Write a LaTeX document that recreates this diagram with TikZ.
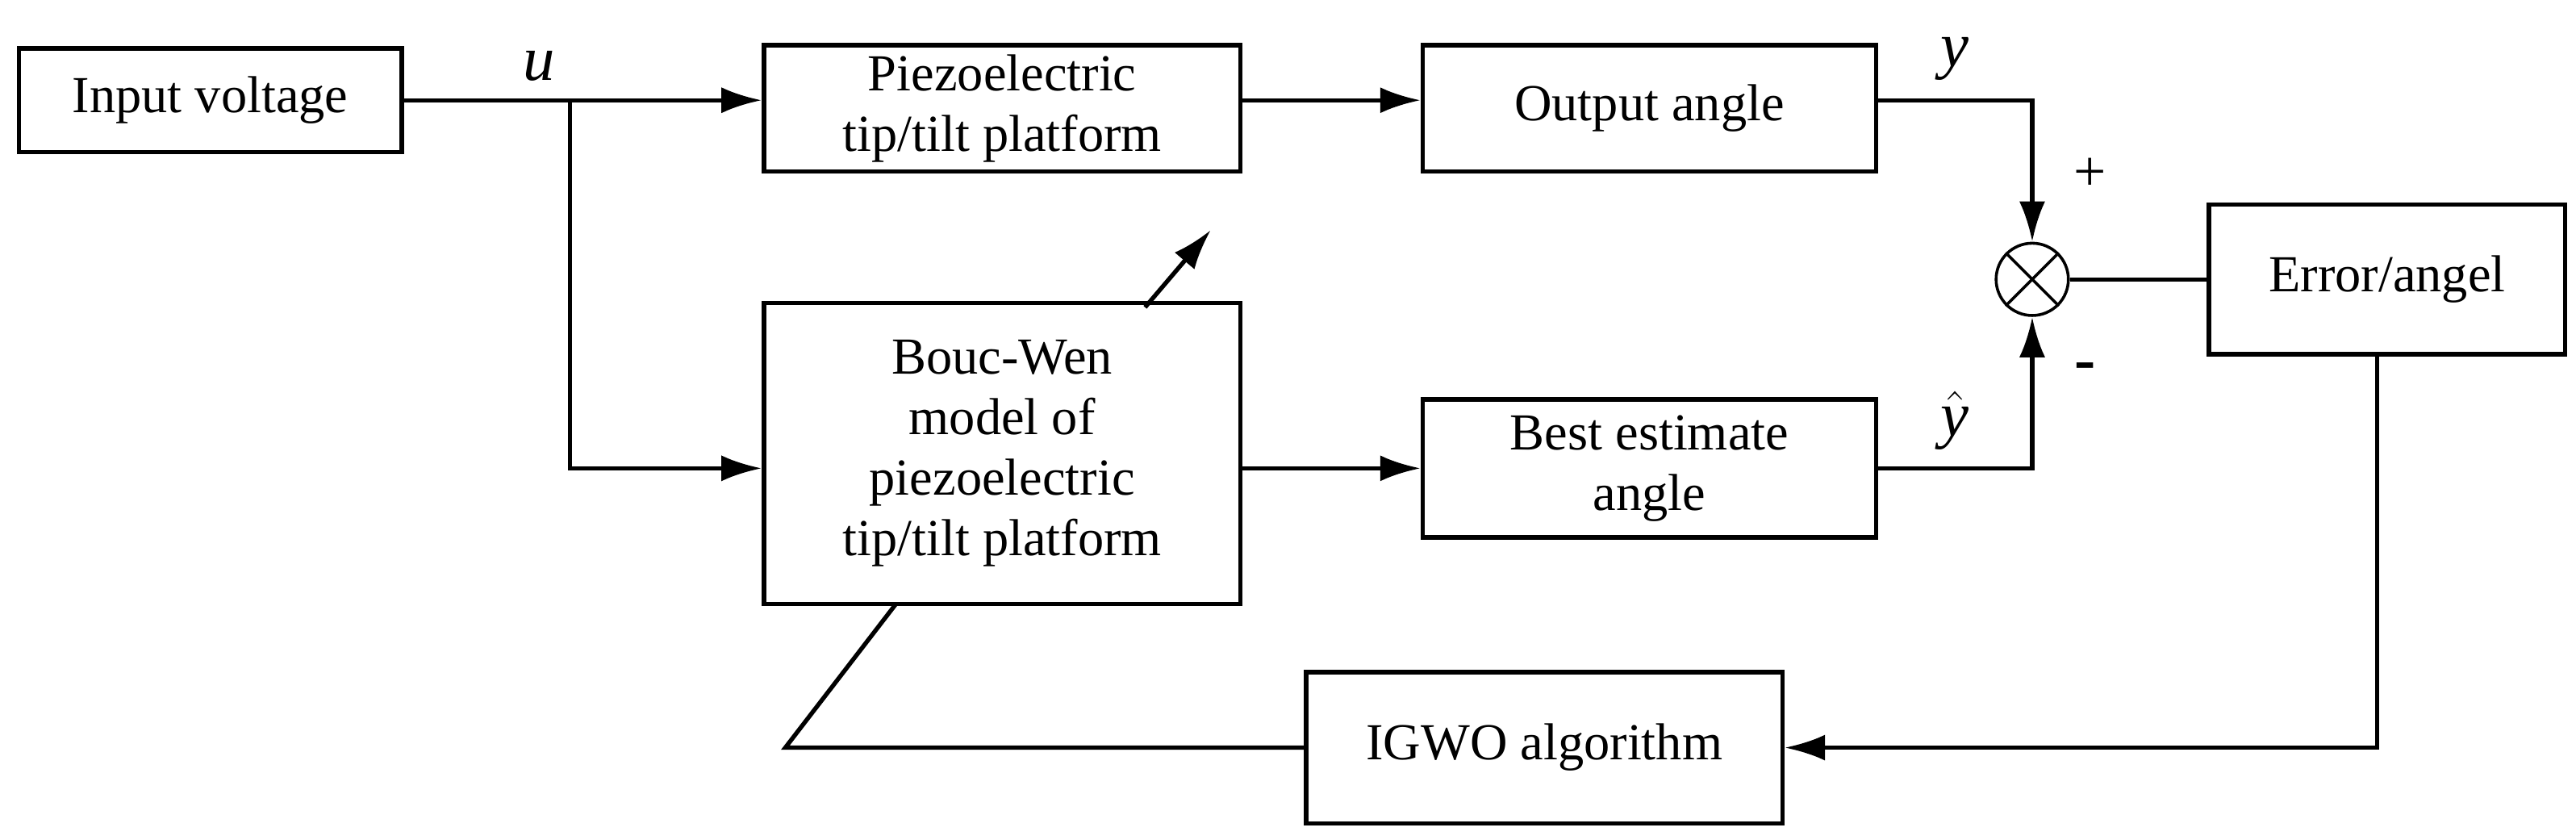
\documentclass[tikz,border=0pt]{standalone}
\usepackage{fontspec}
\setmainfont{Liberation Serif}
\usetikzlibrary{arrows.meta}
\begin{document}
\begin{tikzpicture}[x=0.02cm,y=-0.02cm,line width=1.5pt,
  box/.style={draw,line width=1.5pt,inner sep=0pt,align=center,font=\fontsize{18}{21}\selectfont},
  arr/.style={-{Latex[length=14pt,width=9pt]}},
  lab/.style={font=\fontsize{22}{24}\selectfont\itshape}]
\useasboundingbox (0,0) rectangle (1568,511);
\node[box,minimum width=4.66cm,minimum height=1.26cm] (in) at (128,61) {Input voltage};
\node[box,minimum width=5.8cm,minimum height=1.54cm] (pz) at (610,66) {Piezoelectric\\tip/tilt platform};
\node[box,minimum width=5.52cm,minimum height=1.54cm] (oa) at (1004,66) {Output angle};
\node[box,minimum width=5.8cm,minimum height=3.66cm] (bw) at (610,276) {Bouc-Wen\\model of\\piezoelectric\\tip/tilt platform};
\node[box,minimum width=5.52cm,minimum height=1.68cm] (be) at (1004,285) {Best estimate\\angle};
\node[box,minimum width=4.34cm,minimum height=1.82cm] (er) at (1453,170) {Error/angel};
\node[box,minimum width=5.8cm,minimum height=1.84cm] (ig) at (940,455) {IGWO algorithm};
\node[draw,circle,line width=1pt,minimum size=0.88cm,inner sep=0pt] (x) at (1237,170) {};
\draw[line width=1pt] (x.45)--(x.225) (x.135)--(x.315);
\coordinate (b) at (347,61);
\draw (in.east|-b) -- (b);
\draw[arr] (b) -- (pz.west|-b);
\draw[arr] (b) |- (bw.west|-be);
\node[lab] at (328,40) {u};
\coordinate (c1) at (1237,61);
\draw[arr] (pz.east|-c1) -- (oa.west|-c1);
\draw[arr] (oa.east|-c1) -- (c1) -- (x.north);
\node[lab] at (1190,36) {y};
\node[font=\fontsize{20}{22}\selectfont] at (1272,106) {+};
\coordinate (c2) at (1237,285);
\draw[arr] (bw.east|-c2) -- (be.west|-c2);
\draw[arr] (be.east|-c2) -- (c2) -- (x.south);
\node[lab] at (1190,256) {$\hat{\textit{y}}$};
\node[font=\fontsize{22}{22}\selectfont\bfseries] at (1269,226) {-};
\draw (x.east) -- (er.west);
\coordinate (c3) at (1447,455);
\draw[arr] (er.south-|c3) -- (c3) -- (ig.east);
\coordinate (c4) at (478,455);
\draw (ig.west) -- (c4) -- (545,368);
\coordinate (d1) at (697,187);
\coordinate (d2) at (737,140);
\draw[arr] (d1) -- (d2);
\end{tikzpicture}
\end{document}
